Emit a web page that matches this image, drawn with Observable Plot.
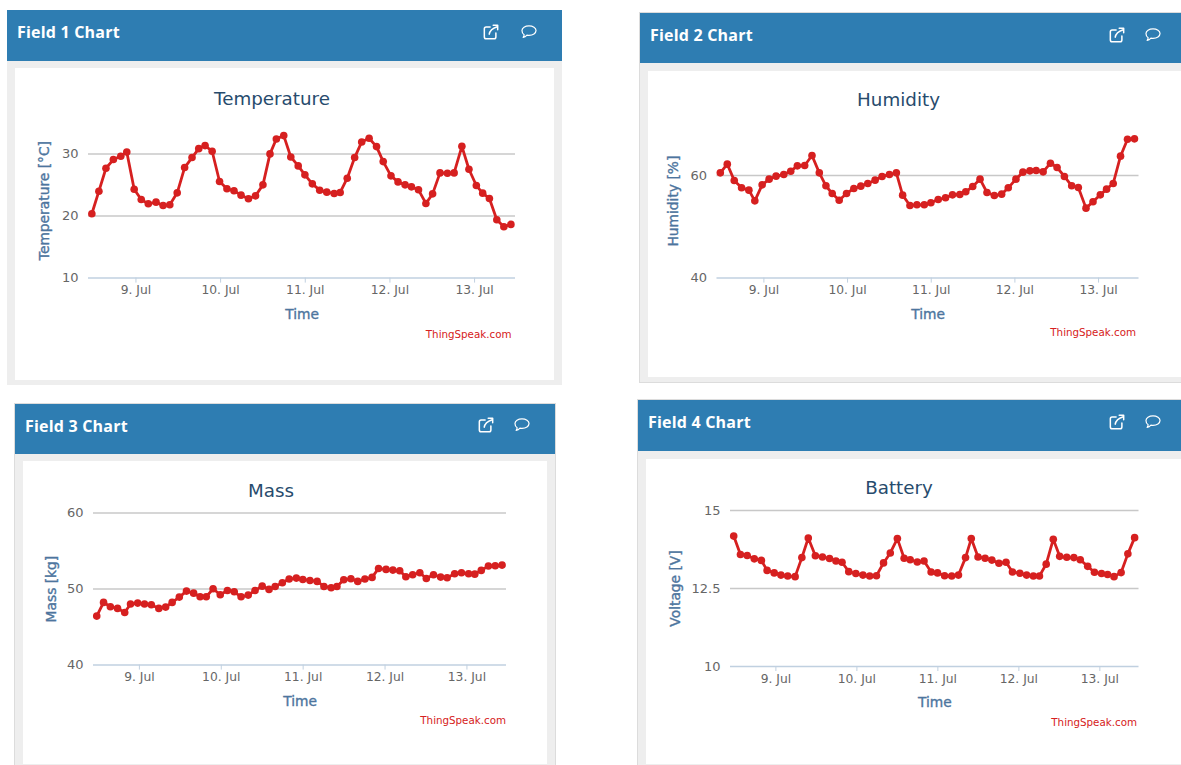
<!DOCTYPE html>
<html>
<head>
<meta charset="utf-8">
<script src="https://cdn.jsdelivr.net/npm/d3@7"></script>
<script src="https://cdn.jsdelivr.net/npm/@observablehq/plot@0.6"></script>
<style>
  html, body { margin: 0; padding: 0; background: #fff; width: 1181px; height: 765px; overflow: hidden; font-family: "DejaVu Sans", sans-serif; }
  .box { position: absolute; box-sizing: border-box; }
  .panel { background: #eeeeee; }
  .framed { box-shadow: 0 0 0 1px #dcdcdc; }
  .head { background: #2e7db2; }
  .white { background: #fff; }
  .field { position: absolute; color: #fff; font-family: "Open Sans", sans-serif; font-size: 16px; font-weight: 700; letter-spacing: .2px; transform: translateY(-50%); white-space: nowrap; }
  .title { position: absolute; color: #274b6d; font-size: 18.3px; transform: translate(-50%,-50%); white-space: nowrap; }
  .credit { position: absolute; color: #d62020; font-size: 10.3px; transform: translate(-100%,-50%); white-space: nowrap; }
  .icon { position: absolute; transform: translate(-50%,-50%); }
  svg.chart { position: absolute; overflow: visible; font-family: "DejaVu Sans", sans-serif; }
  svg.chart g[aria-label$="axis label"] text, svg.chart g[aria-label$="axis label"] { fill: #4d759e; stroke: #4d759e; stroke-width: .35px; font-size: 13.8px; }
  svg.chart g[aria-label$="tick label"] { fill: #666; font-size: 12.3px; }
  svg.chart g[aria-label="y-axis tick label"] { font-size: 13px; }
</style>
</head>
<body>
<script>
// Sample times, in hours after 9 Jul 00:00
const hours = [-12.5,-10.5,-8.5,-6.4,-4.3,-2.6,-0.5,1.5,3.5,5.7,7.7,9.6,11.7,13.8,15.9,17.8,19.6,21.6,23.7,25.8,27.8,29.8,31.9,33.9,36,38,39.8,41.9,43.9,46,47.9,50,52.1,54.1,56.2,57.9,59.9,62,64,66.1,68.2,70.1,72.3,74.3,76.3,78.1,80.1,82.2,84.1,86.2,88.3,90.2,92.4,94.4,96.5,98.3,100.2,102.3,104.3,106.3];
const temperature = [20.38,24.02,27.72,29.12,29.65,30.35,24.34,22.68,21.98,22.25,21.72,21.82,23.75,27.83,29.44,30.88,31.37,30.46,25.58,24.4,24.08,23.38,22.79,23.27,25.04,30.03,32.44,32.98,29.54,28.1,26.65,25.2,24.18,23.86,23.65,23.81,26.11,29.44,31.96,32.55,31.21,28.79,26.49,25.52,25.04,24.72,24.24,22.04,23.59,26.97,26.92,26.97,31.26,27.56,24.93,23.7,22.84,19.41,18.28,18.66];
const humidity = [60.52,62.21,59.03,57.6,57.14,55.06,58.18,59.29,59.87,60.19,60.84,61.88,61.95,63.9,60.52,57.99,56.49,55.19,56.49,57.47,57.92,58.44,59.09,59.81,60.19,60.52,56.17,54.16,54.29,54.29,54.68,55.32,55.65,56.23,56.3,56.82,57.86,59.29,56.69,56.1,56.36,57.6,59.29,60.65,60.91,60.97,60.71,62.4,61.56,59.81,57.99,57.66,53.64,54.87,56.23,57.34,58.44,63.77,67.08,67.14];
const mass = [46.45,48.25,47.68,47.46,46.93,48.03,48.16,48.03,47.94,47.46,47.63,48.25,48.95,49.74,49.47,48.99,48.99,50.04,49.25,49.82,49.65,48.99,49.21,49.82,50.39,49.96,50.35,50.83,51.32,51.45,51.27,51.14,51.01,50.35,50.18,50.35,51.23,51.36,51.01,51.32,51.54,52.72,52.59,52.5,52.41,51.62,51.89,52.15,51.4,51.89,51.58,51.49,52.02,52.15,52.02,51.97,52.46,53.03,53.07,53.16];
const battery = [14.18,13.59,13.56,13.45,13.4,13.08,13,12.93,12.9,12.88,13.49,14.12,13.55,13.51,13.46,13.38,13.34,13.04,12.98,12.93,12.9,12.91,13.32,13.64,14.1,13.47,13.42,13.35,13.38,13.03,13,12.91,12.9,12.93,13.49,14.1,13.51,13.47,13.41,13.31,13.34,13.03,12.99,12.93,12.9,12.9,13.28,14.08,13.53,13.5,13.49,13.42,13.21,13.02,12.98,12.95,12.88,13.01,13.61,14.13];
const tickHours = [0,24,48,72,96];
const tickLabels = ["9. Jul","10. Jul","11. Jul","12. Jul","13. Jul"];
const hourDomain = [-13.45,107.6];

const RED = "#d62020";

const charts = [
  { field:"Field 1 Chart", title:"Temperature", yLabel:"Temperature [°C]", values:temperature, yDomain:[10,35], yTicks:[10,20,30], framed:false,
    panel:[7,10,555,375], head:51, white:[15,68,539,312], axisX:[88,515], axisY:[277.6,122.6], labelOffset:49,
    fieldPos:[17,32], titlePos:[272,97.5], creditPos:[511.5,334], icons:[[491,32],[529,32]] },
  { field:"Field 2 Chart", title:"Humidity", yLabel:"Humidity [%]", values:humidity, yDomain:[40,70], yTicks:[40,60], framed:true,
    panel:[640,13,541,369], head:50, white:[648,71,533,306], axisX:[716.5,1138.5], axisY:[277.6,123.7], labelOffset:49,
    fieldPos:[650,35], titlePos:[898.5,99], creditPos:[1136,332], icons:[[1117,35],[1153,35]] },
  { field:"Field 3 Chart", title:"Mass", yLabel:"Mass [kg]", values:mass, yDomain:[40,60], yTicks:[40,50,60], framed:true,
    panel:[15,404,540,361], head:50, white:[23,461,524,303], axisX:[93,506], axisY:[664.6,512.6], labelOffset:47,
    fieldPos:[25,426], titlePos:[271,490], creditPos:[506,719.7], icons:[[486,425],[522,425]] },
  { field:"Field 4 Chart", title:"Battery", yLabel:"Voltage [V]", values:battery, yDomain:[10,15], yTicks:[10,12.5,15], framed:true,
    panel:[638,400,543,365], head:51, white:[646,459,535,305], axisX:[730,1138.5], axisY:[666,510], labelOffset:60,
    fieldPos:[648,422], titlePos:[899,487], creditPos:[1137,721.7], icons:[[1117,422],[1153,422]] }
];

const ICON_LINK = '<svg width="16" height="16" viewBox="0 0 18 18" fill="none" stroke="#fff" stroke-width="1.7" stroke-linecap="round" stroke-linejoin="round"><path d="M8 3.5H3.5a2 2 0 0 0-2 2v9a2 2 0 0 0 2 2h9a2 2 0 0 0 2-2V10"/><path d="M7 11.5c.5-3.500 3-6.500 9-8.500"/><path d="M11.500 1.500H16.500V6.500"/></svg>';
const ICON_BUBBLE = '<svg width="17" height="15" viewBox="0 0 18 16" fill="none" stroke="#fff" stroke-width="1.3" stroke-linejoin="round"><path d="M9 1.5c4.2 0 7.5 2.2 7.5 5s-3.300 5-7.500 5c-.8 0-1.500-.1-2.200-.2C5.500 12.800 4 13.600 2.800 13.800c.6-.8 1-1.800 1-2.800C2.200 10 1.500 8.400 1.500 6.500c0-2.800 3.300-5 7.500-5z"/></svg>';

function addBox(cls, [x,y,w,h]) {
  const d = document.createElement("div");
  d.className = "box " + cls;
  Object.assign(d.style, {left:x+"px", top:y+"px", width:w+"px", height:h+"px"});
  document.body.appendChild(d);
}
function addText(cls, [x,y], text) {
  const d = document.createElement("div");
  d.className = cls;
  d.textContent = text;
  Object.assign(d.style, {left:x+"px", top:y+"px"});
  document.body.appendChild(d);
}
function addIcon([x,y], html) {
  const d = document.createElement("div");
  d.className = "icon";
  d.innerHTML = html;
  Object.assign(d.style, {left:x+"px", top:y+"px", lineHeight:0});
  document.body.appendChild(d);
}

for (const c of charts) {
  addBox("panel" + (c.framed ? " framed" : ""), c.panel);
  addBox("head", [c.panel[0], c.panel[1], c.panel[2], c.head]);
  addBox("white", c.white);
  addText("field", c.fieldPos, c.field);
  addIcon(c.icons[0], ICON_LINK);
  addIcon(c.icons[1], ICON_BUBBLE);

  const [wx, wy, ww, wh] = c.white;
  const rows = hours.map((h, i) => ({h, v: c.values[i]}));
  const svg = Plot.plot({
    width: ww,
    height: wh,
    marginLeft: c.axisX[0] - wx,
    marginRight: wx + ww - c.axisX[1],
    marginTop: c.axisY[1] - wy,
    marginBottom: wy + wh - c.axisY[0],
    style: {background: "transparent", overflow: "visible"},
    x: {domain: hourDomain},
    y: {domain: c.yDomain},
    marks: [
      Plot.ruleY(c.yTicks.slice(1), {stroke: "#c8c8c8", strokeWidth: 1.5}),
      Plot.ruleY(c.yTicks.slice(0, 1), {stroke: "#c0d0e0", strokeWidth: 1.5}),
      Plot.axisY({ticks: c.yTicks, tickFormat: String, tickSize: 0, tickPadding: 10,
        label: c.yLabel, labelAnchor: "center", labelArrow: "none", labelOffset: c.labelOffset, stroke:"none"}),
      Plot.axisX({ticks: tickHours, tickFormat: h => tickLabels[tickHours.indexOf(h)], tickSize: 5, tickPadding: 2.5,
        stroke: "#c0d0e0", label: "Time", labelAnchor: "center", labelArrow: "none", labelOffset: 40.5}),
      Plot.line(rows, {x: "h", y: "v", stroke: RED, strokeWidth: 2.8}),
      Plot.dot(rows, {x: "h", y: "v", r: 3.8, fill: RED})
    ]
  });
  svg.classList.add("chart");
  svg.style.left = wx + "px";
  svg.style.top = wy + "px";
  document.body.appendChild(svg);

  addText("title", c.titlePos, c.title);
  addText("credit", c.creditPos, "ThingSpeak.com");
}
</script>
</body>
</html>
